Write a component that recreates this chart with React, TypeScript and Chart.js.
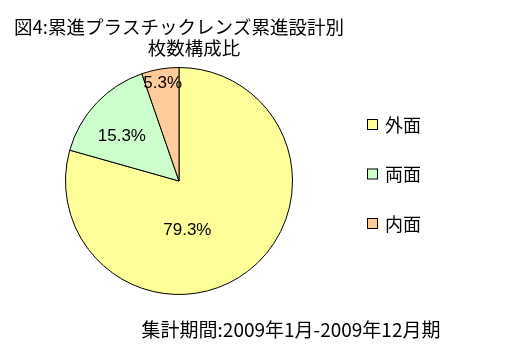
import React, { useEffect, useRef } from "react";
import { Chart, registerables } from "chart.js";

Chart.register(...registerables);

const categories = ["外面", "両面", "内面"];
const values = [79.3, 15.3, 5.3];
const valueLabels = ["79.3%", "15.3%", "5.3%"];
const titleLines = ["図4:累進プラスチックレンズ累進設計別", "枚数構成比"];
const footnote = "集計期間:2009年1月-2009年12月期";
const colors = ["#FFFF99", "#CCFFCC", "#FFCC99"];

const JP = '"Noto Sans CJK JP", sans-serif';

const decorPlugin = {
  id: "decor",
  afterDatasetsDraw(chart: any, _args: any, opts: any) {
    const ctx = chart.ctx;
    const meta = chart.getDatasetMeta(0);
    ctx.save();
    ctx.font = '17px "Liberation Sans", Arial, sans-serif';
    ctx.fillStyle = "#000";
    ctx.textAlign = "center";
    ctx.textBaseline = "middle";
    meta.data.forEach((arc: any, i: number) => {
      const p = arc.getProps(["x", "y", "startAngle", "endAngle", "outerRadius"], true);
      const place = opts.labelPlace[i];
      const mid = (p.startAngle + p.endAngle) / 2 + (place.angle * Math.PI) / 180;
      const r = p.outerRadius * place.frac;
      ctx.fillText(valueLabels[i], p.x + Math.cos(mid) * r, p.y + Math.sin(mid) * r);
    });
    ctx.restore();
  },
  afterDraw(chart: any, _args: any, opts: any) {
    const ctx = chart.ctx;
    ctx.save();
    ctx.fillStyle = "#000";
    ctx.textBaseline = "middle";
    ctx.textAlign = "center";
    ctx.font = "18.5px " + JP;
    ctx.fillText(titleLines[0], opts.title1X, opts.title1Y);
    ctx.fillText(titleLines[1], opts.title2X, opts.title2Y);
    ctx.font = "19px " + JP;
    ctx.fillText(footnote, opts.footX, opts.footY);
    ctx.textAlign = "left";
    ctx.font = "18px " + JP;
    categories.forEach((c, i) => {
      const y = opts.legendY + i * opts.legendStep;
      ctx.fillStyle = colors[i];
      ctx.fillRect(opts.legendX, y - 5, 10, 10);
      ctx.strokeStyle = "#000";
      ctx.lineWidth = 1;
      ctx.strokeRect(opts.legendX + 0.5, y - 4.5, 10, 10);
      ctx.fillStyle = "#000";
      ctx.fillText(c, opts.legendX + 18, y + 1);
    });
    ctx.restore();
  },
};

export default function App() {
  const ref = useRef<HTMLCanvasElement>(null);
  useEffect(() => {
    document.body.style.margin = "0";
    const chart = new Chart(ref.current!, {
      type: "pie",
      data: {
        labels: categories,
        datasets: [
          {
            data: values,
            backgroundColor: colors,
            borderColor: "#000",
            borderWidth: 1,
          },
        ],
      },
      options: {
        animation: false,
        responsive: false,
        events: [],
        layout: { padding: { left: 65, top: 67, right: 229, bottom: 56 } },
        plugins: {
          legend: { display: false },
          title: { display: false },
          tooltip: { enabled: false },
          decor: {
            labelPlace: [
              { frac: 0.445, angle: 27.6 },
              { frac: 0.64, angle: -5.2 },
              { frac: 0.87, angle: 0 },
            ],
            title1X: 179,
            title1Y: 27,
            title2X: 194,
            title2Y: 48,
            footX: 291,
            footY: 330,
            legendX: 367,
            legendY: 124,
            legendStep: 49.5,
          },
        } as any,
      },
      plugins: [decorPlugin],
    });
    return () => chart.destroy();
  }, []);
  return (
    <div style={{ width: 522, height: 351, background: "#fff" }}>
      <canvas ref={ref} width={522} height={351} style={{ display: "block" }} />
    </div>
  );
}
